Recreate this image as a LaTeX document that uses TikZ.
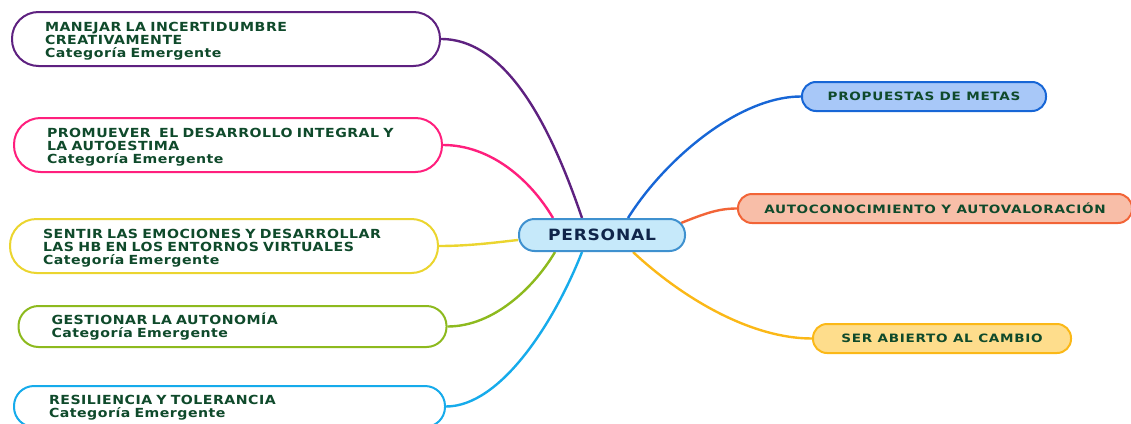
\documentclass[tikz,border=0pt]{standalone}
\usepackage{fontspec}
\setmainfont{DejaVu Sans}
\newfontfamily\lftfont[LetterSpace=4,FakeStretch=1.13]{DejaVu Sans}
\newfontfamily\rgtfont[LetterSpace=6,FakeStretch=1.18]{DejaVu Sans}
\newfontfamily\ctrfont[LetterSpace=5,FakeStretch=1.1]{DejaVu Sans}
\usetikzlibrary{backgrounds}
\definecolor{txtgreen}{HTML}{0F4A2B}
\definecolor{cpurple}{HTML}{5E2180}
\definecolor{cpink}{HTML}{FF1F7D}
\definecolor{cyellow}{HTML}{EBD52F}
\definecolor{cgreen}{HTML}{8DBA1E}
\definecolor{ccyan}{HTML}{16ABEB}
\definecolor{cctrfill}{HTML}{C6E9FA}
\definecolor{cctrline}{HTML}{3F91CF}
\definecolor{cblue}{HTML}{1766D6}
\definecolor{cbluefill}{HTML}{A8C8F8}
\definecolor{corange}{HTML}{F26437}
\definecolor{corangefill}{HTML}{F8BEA8}
\definecolor{cgold}{HTML}{FBB817}
\definecolor{cgoldfill}{HTML}{FEDD8C}
\definecolor{cnavy}{HTML}{10254A}
\newcommand{\topstrut}[1]{\rule{0pt}{#1}}
\tikzset{
  leftbox/.style={draw=#1, line width=2pt, fill=white, rectangle,
    rounded corners=26.5pt, minimum height=54pt, inner ysep=0pt,
    inner xsep=33pt, text width=362pt, align=left, text=txtgreen,
    font=\lftfont\bfseries\fontsize{12.5}{12.8}\selectfont},
  rightbox/.style={draw=#1, line width=2pt, rectangle,
    rounded corners=14pt, minimum height=29pt, inner ysep=0pt, inner xsep=0pt,
    align=center, text=txtgreen,
    font=\rgtfont\bfseries\fontsize{11.5}{12}\selectfont},
  conn/.style={draw=#1, line width=2.4pt},
}
\begin{document}
\begin{tikzpicture}[x=1pt, y=-1pt]
\useasboundingbox (0,0) rectangle (1131,423);

% left nodes
\node[leftbox=cpurple] (n1) at (226,39)
  {\topstrut{14pt}MANEJAR LA INCERTIDUMBRE\\CREATIVAMENTE\\Categoría Emergente};
\node[leftbox=cpink] (n2) at (228,145)
  {\topstrut{14pt}PROMUEVER\ \ EL DESARROLLO INTEGRAL Y\\LA AUTOESTIMA\\Categoría Emergente};
\node[leftbox=cyellow] (n3) at (224,246)
  {\topstrut{14pt}SENTIR LAS EMOCIONES Y DESARROLLAR\\LAS HB EN LOS ENTORNOS VIRTUALES\\Categoría Emergente};
\node[leftbox=cgreen, minimum height=41pt, rounded corners=20pt] (n4) at (232.5,326.5)
  {\topstrut{11pt}GESTIONAR LA AUTONOMÍA\\Categoría Emergente};
\node[leftbox=ccyan, minimum height=41pt, rounded corners=20pt, inner xsep=35pt, text width=361pt] (n5) at (229.5,406.5)
  {\topstrut{11pt}RESILIENCIA Y TOLERANCIA\\Categoría Emergente};

% centre
\node[draw=cctrline, fill=cctrfill, line width=2pt, rectangle, rounded corners=15.5pt,
  minimum width=166pt, minimum height=32pt, inner sep=0pt, text=cnavy,
  font=\ctrfont\bfseries\fontsize{15.5}{16}\selectfont] (c) at (602,235) {PERSONAL};

% right nodes
\node[rightbox=cblue, fill=cbluefill, minimum width=244pt] (r1) at (924,96.5) {PROPUESTAS DE METAS};
\node[rightbox=corange, fill=corangefill, minimum width=394pt] (r2) at (935,208.5) {AUTOCONOCIMIENTO Y AUTOVALORACIÓN};
\node[rightbox=cgold, fill=cgoldfill, minimum width=258pt] (r3) at (942,338.5) {SER ABIERTO AL CAMBIO};

\begin{scope}[on background layer]
\draw[conn=cpurple] (n1.east) .. controls +(70,0) and +(-27,-79) .. ([xshift=-20pt]c.north);
\draw[conn=cpink] (n2.east) .. controls +(47,0) and +(-23,-39) .. ([xshift=-49pt]c.north);
\draw[conn=cyellow] (n3.east) .. controls +(32,0) and +(-19,2) .. ([yshift=-5pt]c.west);
\draw[conn=cgreen] (n4.east) .. controls +(47,0) and +(-20,34) .. ([xshift=-47pt]c.south);
\draw[conn=ccyan] (n5.east) .. controls +(55,0) and +(-27,69) .. ([xshift=-20pt]c.south);
\draw[conn=cblue] ([xshift=26pt]c.north) .. controls +(37,-59) and +(-62,0) .. (r1.west);
\draw[conn=corange] ([xshift=-5pt,yshift=12pt]c.east) .. controls +(25,-10) and +(-18,0) .. (r2.west);
\draw[conn=cgold] ([xshift=31pt]c.south) .. controls +(47,44) and +(-63,0) .. (r3.west);
\end{scope}
\end{tikzpicture}
\end{document}
